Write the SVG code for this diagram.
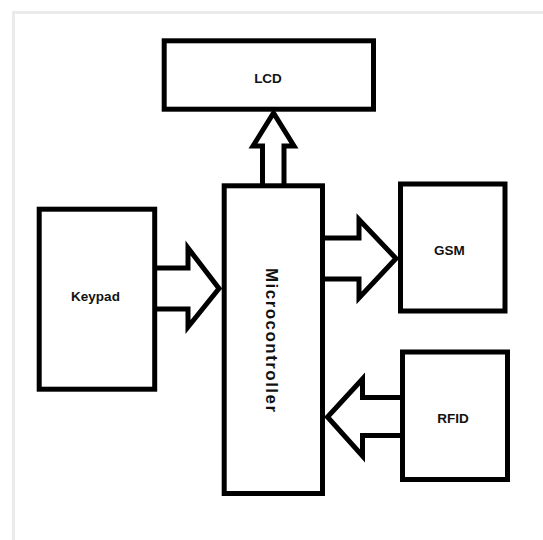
<svg xmlns="http://www.w3.org/2000/svg" width="543" height="540" viewBox="0 0 543 540">
<style>
.box{fill:#fff;stroke:#000;stroke-width:5}
.arr{fill:#fff;stroke:#000;stroke-width:5;stroke-linejoin:miter}
.lbl{font-family:"Liberation Sans",Arial,sans-serif;font-weight:bold;font-size:13.5px;fill:#111;text-anchor:middle}
</style>
<rect width="543" height="540" fill="#fff"/>
<path d="M13.5 540 V12.5 H543" fill="none" stroke="#ebebeb" stroke-width="3"/>
<g id="connectors">
<path class="arr" d="M262.5 186 V146 H253 L273.5 113 L294 146 H284 V186"/>
<path class="arr" d="M157 268 H188 V248 L219 288.5 L188 327 V309 H157"/>
<path class="arr" d="M325 238 H359 V219.5 L396 258.5 L359 298 V279 H325"/>
<path class="arr" d="M400 397.5 H362.5 V379 L327.5 417 L362.5 456 V435.5 H400"/>
</g>
<g id="lcd">
<rect class="box" x="164.2" y="40.8" width="209.3" height="68.4"/>
<text class="lbl" x="268" y="82.5">LCD</text>
</g>
<g id="keypad">
<rect class="box" x="39.2" y="209.2" width="115.5" height="180"/>
<text class="lbl" x="95.5" y="300.5">Keypad</text>
</g>
<g id="microcontroller">
<rect class="box" x="224.2" y="185.8" width="98.3" height="307.7"/>
<text class="lbl" transform="translate(265.5,340) rotate(90)" x="0" y="0" style="font-size:17px" textLength="144" lengthAdjust="spacing">Microcontroller</text>
</g>
<g id="gsm">
<rect class="box" x="400.5" y="184" width="104.5" height="127"/>
<text class="lbl" x="449.5" y="255">GSM</text>
</g>
<g id="rfid">
<rect class="box" x="402.5" y="352" width="105" height="127.5"/>
<text class="lbl" x="453" y="423">RFID</text>
</g>
</svg>
